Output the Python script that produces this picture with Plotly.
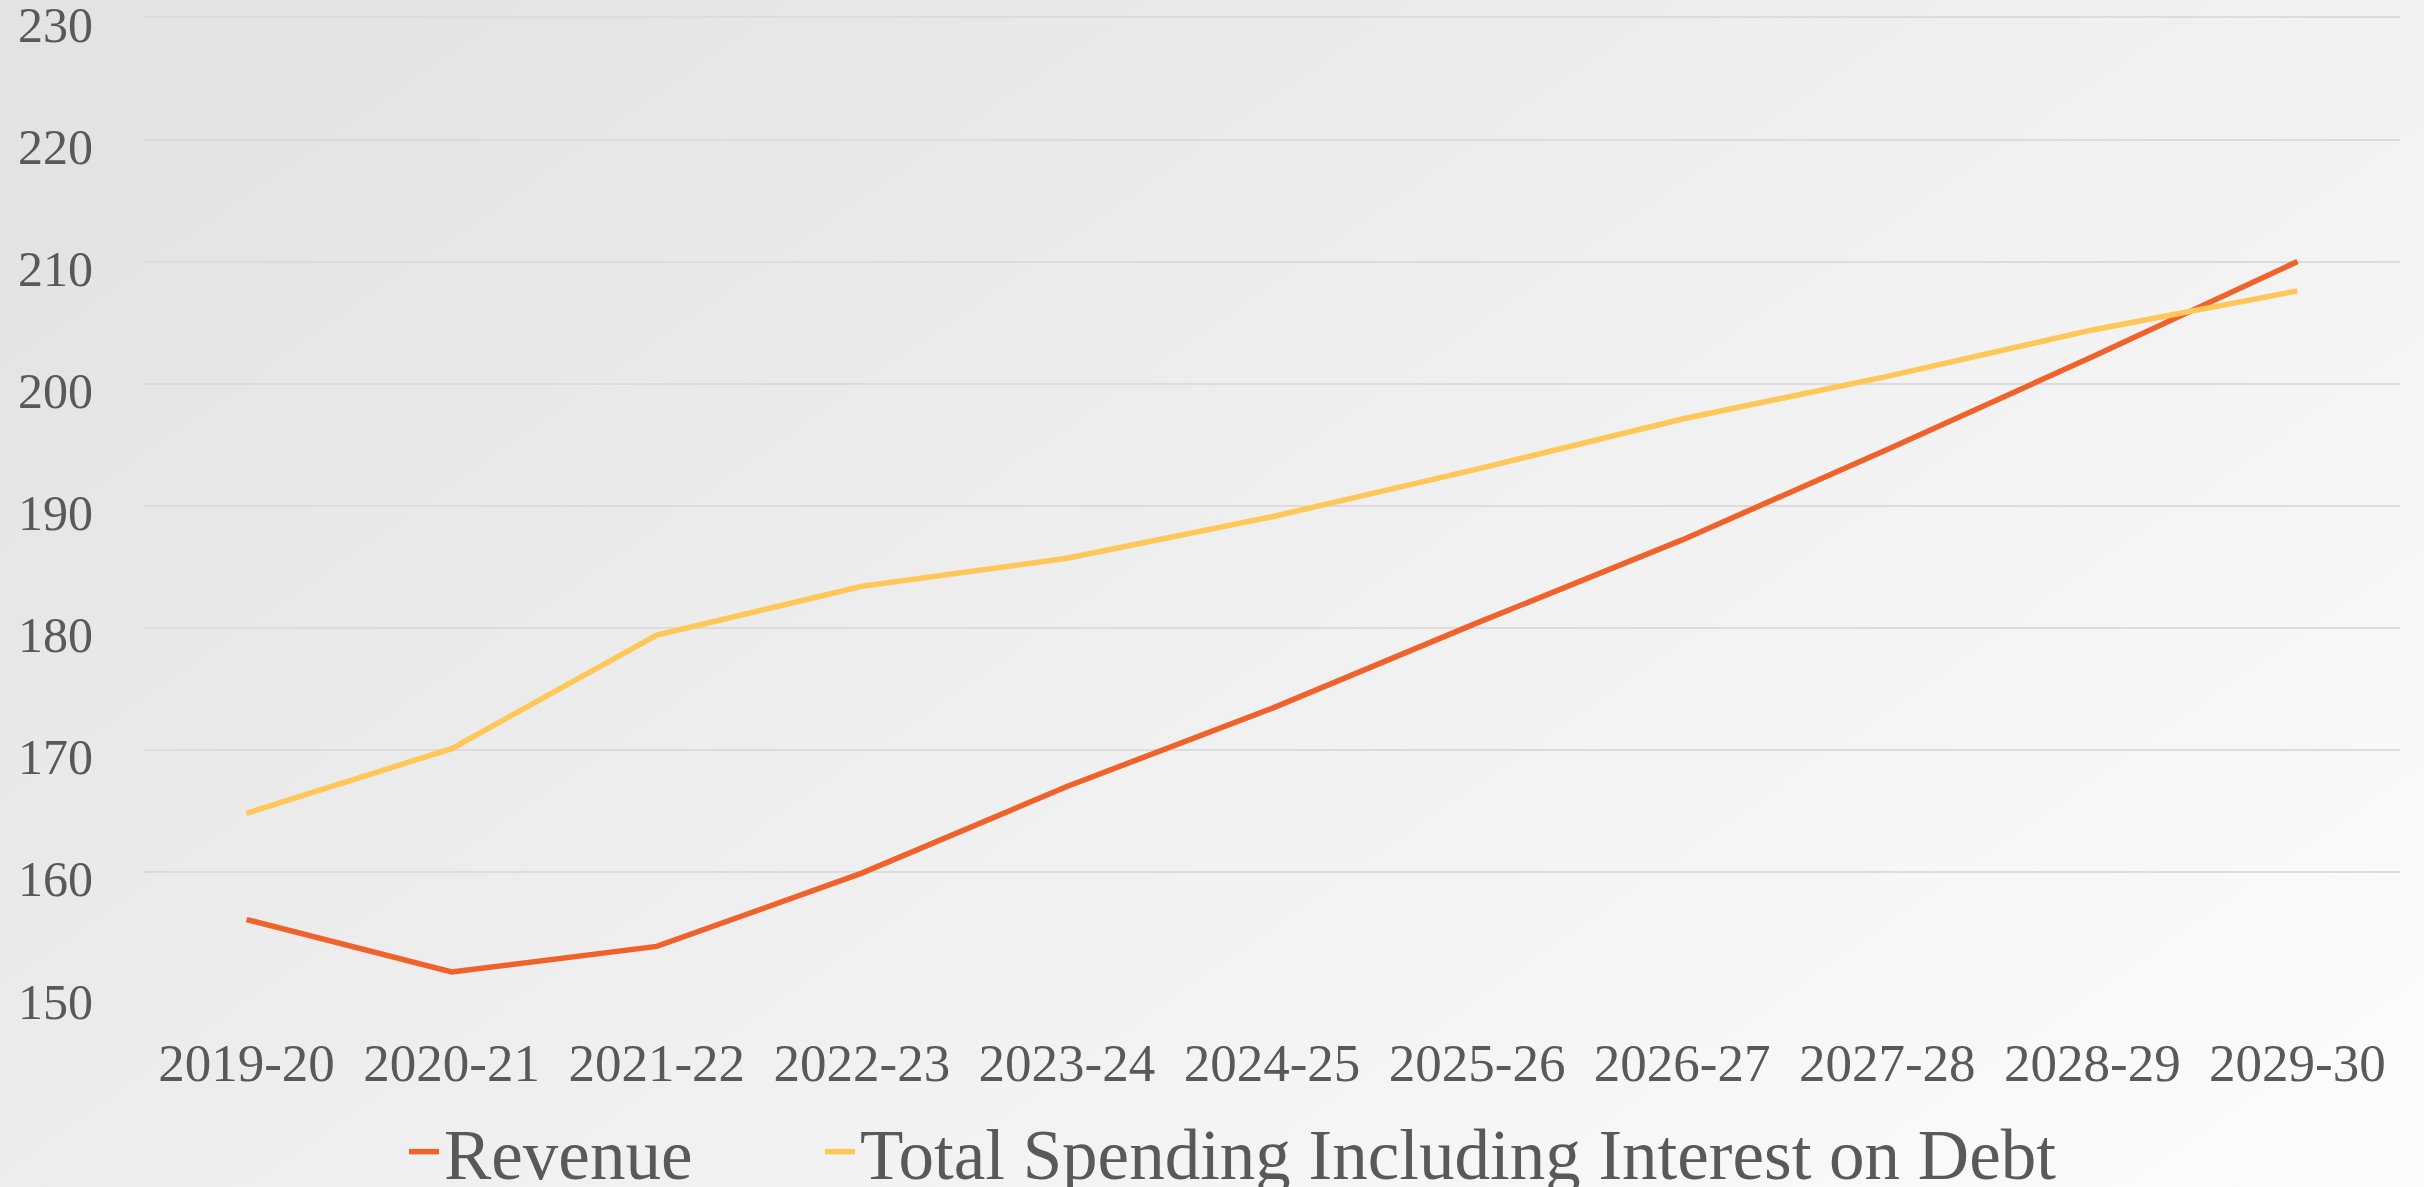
import base64
import plotly.graph_objects as go

years = ["2019-20", "2020-21", "2021-22", "2022-23", "2023-24", "2024-25",
         "2025-26", "2026-27", "2027-28", "2028-29", "2029-30"]
revenue = [156.1, 151.8, 153.9, 159.9, 167.0, 173.4, 180.4, 187.2, 194.6, 202.2, 210.0]
spending = [164.8, 170.1, 179.4, 183.4, 185.7, 189.1, 193.0, 197.1, 200.6, 204.4, 207.6]
y_ticks = [150, 160, 170, 180, 190, 200, 210, 220, 230]

W, H = 2424, 1187
FONT = "Liberation Serif"
TXT = "#595959"

svg = ('<svg xmlns="http://www.w3.org/2000/svg" width="2424" height="1187" '
       'preserveAspectRatio="none"><defs><linearGradient id="g" x1="0" y1="0.2" x2="1" y2="0.9">'
       '<stop offset="0" stop-color="#e3e3e3"/><stop offset="0.55" stop-color="#f1f1f1"/>'
       '<stop offset="1" stop-color="#fbfbfb"/></linearGradient></defs>'
       '<rect width="100%" height="100%" fill="url(#g)"/></svg>')
src = "data:image/svg+xml;base64," + base64.b64encode(svg.encode()).decode()

fig = go.Figure()
fig.add_trace(go.Scatter(x=years, y=revenue, name="Revenue", mode="lines",
                         line=dict(color="#F0622B", width=5.5), legend="legend"))
fig.add_trace(go.Scatter(x=years, y=spending, name="Total Spending Including Interest on Debt",
                         mode="lines", line=dict(color="#FFC658", width=5.5), legend="legend2"))

leg_common = dict(orientation="h", xanchor="left", y=(H - 1152) / H, yanchor="middle",
                  font=dict(size=71, color=TXT, family=FONT), bgcolor="rgba(0,0,0,0)")

fig.update_layout(
    width=W, height=H,
    margin=dict(l=0, r=0, t=0, b=0, autoexpand=False),
    paper_bgcolor="#eeeeee",
    plot_bgcolor="rgba(0,0,0,0)",
    font=dict(family=FONT, color=TXT),
    images=[dict(source=src, xref="paper", yref="paper", x=0, y=1, sizex=1, sizey=1,
                 sizing="stretch", layer="below", xanchor="left", yanchor="top")],
    xaxis=dict(domain=[144 / W, 2400 / W], range=[-0.5, 10.5], showgrid=False,
               zeroline=False, showline=False, ticks="outside", ticklen=22,
               tickcolor="rgba(0,0,0,0)", tickfont=dict(size=53, color=TXT, family=FONT),
               tickangle=0),
    yaxis=dict(domain=[(H - 994) / H, (H - 15) / H], range=[150, 230.2], tickvals=y_ticks,
               showgrid=True, gridcolor="#dcdcdc", gridwidth=2, zeroline=False,
               showline=False, ticks="outside", ticklen=40, tickcolor="rgba(0,0,0,0)",
               ticklabeloverflow="allow", ticklabelshift=7,
               tickfont=dict(size=50, color=TXT, family=FONT)),
    legend=dict(x=404 / W, **leg_common),
    legend2=dict(x=820 / W, **leg_common),
    showlegend=True,
)

fig.write_html("out.html", config={"displayModeBar": False},
               post_script="document.body.style.margin='0';")
